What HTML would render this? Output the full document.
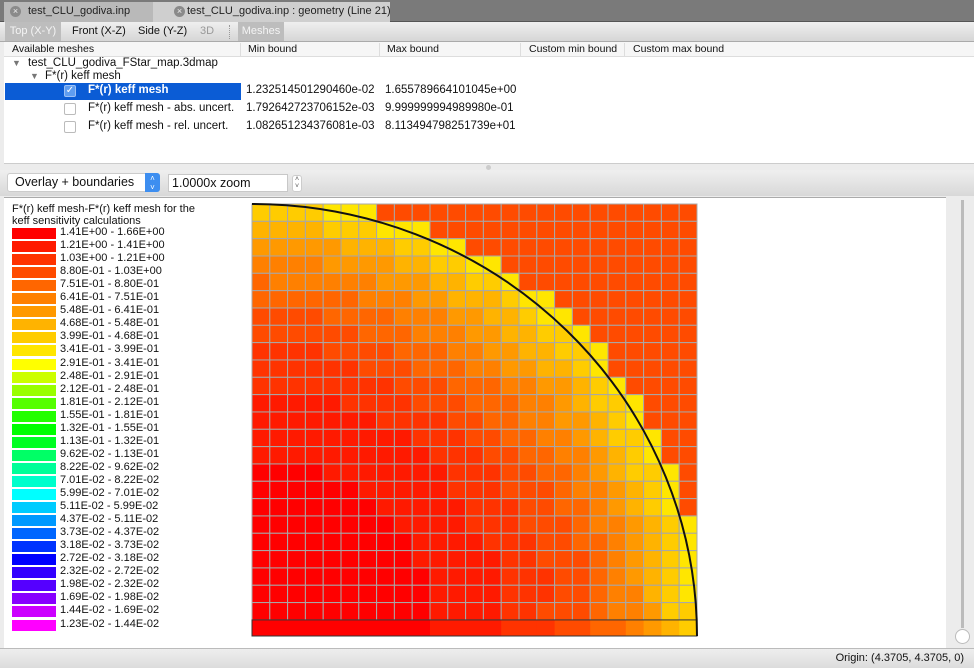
<!DOCTYPE html>
<html><head><meta charset="utf-8">
<style>
*{box-sizing:border-box;margin:0;padding:0}
body{width:974px;height:668px;overflow:hidden;background:#ececec;font-family:"Liberation Sans",sans-serif;font-size:11px;color:#111;position:relative}
.abs{position:absolute}
.tabbar{left:0;top:0;width:974px;height:22px;background:#7a7a7a;border-bottom:1px solid #555}
.tab{top:2px;height:20px;font-size:11px;line-height:19px;color:#222;white-space:nowrap;overflow:hidden}
.tool{left:0;top:22px;width:974px;height:20px;background:linear-gradient(#efefef,#d6d6d6);border-bottom:1px solid #aaa}
.tb{top:0;height:19px;line-height:19px;font-size:11px;color:#111}
.hdr{left:4px;top:42px;width:970px;height:15px;background:#f6f6f6;border-bottom:1px solid #ddd;font-size:10.5px}
.hdr span{position:absolute;top:1px}
.tree{left:4px;top:57px;width:970px;height:107px;background:#fff;border-bottom:1px solid #ccc}
.t{position:absolute;font-size:11.5px;white-space:nowrap}
.cb{position:absolute;width:12px;height:12px;border:1px solid #bbb;border-radius:2px;background:#fff}
.main{left:4px;top:197px;width:942px;height:451px;background:#fff;border-top:1px solid #aaa}
.leg{position:absolute;left:8px;width:44px;height:11px}
.lt{position:absolute;left:56px;font-size:11px;white-space:nowrap}
</style></head><body>
<div class="abs tabbar">
 <div class="abs tab" style="left:4px;width:149px;background:#b9b9b9;padding-left:24px">test_CLU_godiva.inp</div>
 <div class="abs" style="left:10px;top:6px;width:11px;height:11px;border-radius:6px;background:#8a8a8a;color:#eee;font-size:9px;line-height:11px;text-align:center">×</div>
 <div class="abs tab" style="left:153px;width:237px;background:#cfcfcf;padding-left:34px">test_CLU_godiva.inp : geometry (Line 21)</div>
 <div class="abs" style="left:174px;top:6px;width:11px;height:11px;border-radius:6px;background:#8a8a8a;color:#eee;font-size:9px;line-height:11px;text-align:center">×</div>
</div>
<div class="abs tool">
 <div class="abs tb" style="left:5px;width:56px;background:#bdbdbd;color:#f4f4f4;text-align:center">Top (X-Y)</div>
 <div class="abs tb" style="left:72px">Front (X-Z)</div>
 <div class="abs tb" style="left:138px">Side (Y-Z)</div>
 <div class="abs tb" style="left:200px;color:#999">3D</div>
 <div class="abs" style="left:229px;top:3px;height:14px;border-left:1px dotted #999"></div>
 <div class="abs tb" style="left:238px;width:46px;background:#bdbdbd;color:#f4f4f4;text-align:center">Meshes</div>
</div>
<div class="abs hdr">
 <span style="left:8px">Available meshes</span>
 <span style="left:236px;height:13px;border-left:1px solid #ddd"></span><span style="left:244px">Min bound</span>
 <span style="left:375px;height:13px;border-left:1px solid #ddd"></span><span style="left:383px">Max bound</span>
 <span style="left:516px;height:13px;border-left:1px solid #ddd"></span><span style="left:525px">Custom min bound</span>
 <span style="left:620px;height:13px;border-left:1px solid #ddd"></span><span style="left:629px">Custom max bound</span>
</div>
<div class="abs tree">
 <div class="t" style="left:8px;top:1px;color:#777;font-size:9px">▼</div>
 <div class="t" style="left:24px;top:0px">test_CLU_godiva_FStar_map.3dmap</div>
 <div class="t" style="left:26px;top:14px;color:#777;font-size:9px">▼</div>
 <div class="t" style="left:41px;top:13px">F*(r) keff mesh</div>
 <div class="abs" style="left:1px;top:26px;width:236px;height:17px;background:#0b5cd5"></div>
 <div class="cb" style="left:60px;top:28px;background:#5f9df0;border-color:#9cc0f5;color:#fff;font-size:10px;line-height:10px;text-align:center">✓</div>
 <div class="t" style="left:84px;top:27px;color:#fff;font-weight:bold">F*(r) keff mesh</div>
 <div class="t" style="left:242px;top:27px">1.232514501290460e-02</div>
 <div class="t" style="left:381px;top:27px">1.655789664101045e+00</div>
 <div class="cb" style="left:60px;top:46px"></div>
 <div class="t" style="left:84px;top:45px">F*(r) keff mesh - abs. uncert.</div>
 <div class="t" style="left:242px;top:45px">1.792642723706152e-03</div>
 <div class="t" style="left:381px;top:45px">9.999999994989980e-01</div>
 <div class="cb" style="left:60px;top:64px"></div>
 <div class="t" style="left:84px;top:63px">F*(r) keff mesh - rel. uncert.</div>
 <div class="t" style="left:242px;top:63px">1.082651234376081e-03</div>
 <div class="t" style="left:381px;top:63px">8.113494798251739e+01</div>
</div>
<div class="abs" style="left:486px;top:165px;width:5px;height:5px;border-radius:3px;background:#ccc"></div>
<div class="abs" style="left:0;top:170px;width:974px;height:26px;background:linear-gradient(#efefef,#d8d8d8)"></div>
<div class="abs" style="left:7px;top:173px;width:153px;height:19px;background:#fff;border:1px solid #ccc;border-radius:3px;font-size:12.5px;line-height:17px;padding-left:7px">Overlay + boundaries</div>
<div class="abs" style="left:145px;top:173px;width:15px;height:19px;background:#3d8ef0;border-radius:0 3px 3px 0;color:#fff;font-size:8px;line-height:9px;text-align:center;padding-top:1px">˄<br>˅</div>
<div class="abs" style="left:168px;top:174px;width:120px;height:18px;background:#fff;border:1px solid #c8c8c8;font-size:12.5px;line-height:16px;padding-left:3px">1.0000x zoom</div>
<div class="abs" style="left:292px;top:175px;width:10px;height:17px;background:#fff;border:1px solid #ccc;border-radius:3px;font-size:7px;line-height:7px;text-align:center;color:#555">˄<br>˅</div>
<div class="abs main">
 <div class="t" style="left:8px;top:6px;font-size:11px;line-height:11.5px">F*(r) keff mesh-F*(r) keff mesh for the<br>keff sensitivity calculations</div>
 <div id="legend"></div>
</div>
<div class="abs" style="left:961px;top:200px;width:3px;height:428px;background:#bbb"></div>
<div class="abs" style="left:955px;top:629px;width:15px;height:15px;border-radius:8px;background:#fff;border:1px solid #bbb"></div>
<div class="abs" style="left:0;top:648px;width:974px;height:20px;background:linear-gradient(#eee,#dcdcdc);border-top:1px solid #bbb">
 <div class="t" style="right:10px;top:3px;font-size:11px">Origin: (4.3705, 4.3705, 0)</div>
</div>
<svg class="abs" style="left:0;top:0" width="974" height="668" id="chart"></svg>
<script>
const legendLabels=["1.41E+00 - 1.66E+00","1.21E+00 - 1.41E+00","1.03E+00 - 1.21E+00","8.80E-01 - 1.03E+00","7.51E-01 - 8.80E-01","6.41E-01 - 7.51E-01","5.48E-01 - 6.41E-01","4.68E-01 - 5.48E-01","3.99E-01 - 4.68E-01","3.41E-01 - 3.99E-01","2.91E-01 - 3.41E-01","2.48E-01 - 2.91E-01","2.12E-01 - 2.48E-01","1.81E-01 - 2.12E-01","1.55E-01 - 1.81E-01","1.32E-01 - 1.55E-01","1.13E-01 - 1.32E-01","9.62E-02 - 1.13E-01","8.22E-02 - 9.62E-02","7.01E-02 - 8.22E-02","5.99E-02 - 7.01E-02","5.11E-02 - 5.99E-02","4.37E-02 - 5.11E-02","3.73E-02 - 4.37E-02","3.18E-02 - 3.73E-02","2.72E-02 - 3.18E-02","2.32E-02 - 2.72E-02","1.98E-02 - 2.32E-02","1.69E-02 - 1.98E-02","1.44E-02 - 1.69E-02","1.23E-02 - 1.44E-02"];
const legendColors=["#ff0000","#ff1a00","#ff3300","#ff4b00","#ff6600","#ff8000","#ff9900","#ffb300","#ffcc00","#ffe600","#ffff00","#ccff00","#99ff00","#55ff00","#22ff00","#00ff00","#00ff22","#00ff66","#00ff99","#00ffcc","#00ffff","#00ccff","#0099ff","#0066ff","#0033ff","#0000ff","#3300ff","#5500ff","#8800ff","#cc00ff","#ff00ff"];
// cell level indices (row 0 = top); missing trailing cells = outside value level 3
const rows=[
[8,8,8,8,9,9,9],
[7,7,7,7,8,8,8,9,9,9],
[6,6,6,6,6,7,7,7,8,8,9,9],
[5,5,5,5,6,6,6,6,7,7,8,8,9,9],
[4,5,5,5,5,5,5,6,6,6,7,7,8,8,9],
[4,4,4,4,4,4,5,5,5,6,6,7,7,7,8,9,9],
[3,3,3,3,4,4,4,4,5,5,5,6,6,7,7,8,9,9],
[3,3,3,3,3,3,4,4,4,5,5,5,6,6,7,7,8,8,9],
[2,2,2,2,3,3,3,3,4,4,4,5,5,6,6,7,7,8,8,9],
[2,2,2,2,2,2,3,3,3,4,4,4,5,5,6,6,7,7,8,9],
[2,2,2,2,2,2,2,2,3,3,3,4,4,4,5,5,6,6,7,8,9],
[1,1,1,1,1,2,2,2,2,3,3,3,4,4,4,5,5,6,7,8,8,9],
[1,1,1,1,1,1,1,2,2,2,2,3,3,4,4,5,5,6,6,7,8,9],
[1,1,1,1,1,1,1,1,1,2,2,2,3,3,4,4,5,5,6,7,8,8,9],
[1,1,1,1,1,1,1,1,1,1,2,2,2,3,3,4,4,5,5,6,7,8,9],
[0,0,0,0,1,1,1,1,1,1,1,2,2,2,3,3,4,4,5,6,7,8,8,9],
[0,0,0,0,0,0,1,1,1,1,1,2,2,2,3,3,3,4,5,5,6,7,8,9],
[0,0,0,0,0,0,0,1,1,1,1,1,2,2,2,3,3,4,4,5,6,7,8,9],
[0,0,0,0,0,0,0,0,1,1,1,1,2,2,2,3,3,3,4,5,5,6,7,8,9],
[0,0,0,0,0,0,0,0,0,1,1,1,1,2,2,2,3,3,4,4,5,6,7,8,9],
[0,0,0,0,0,0,0,0,0,1,1,1,1,1,2,2,3,3,3,4,5,6,7,8,9],
[0,0,0,0,0,0,0,0,0,0,1,1,1,1,2,2,2,3,3,4,5,6,7,8,9],
[0,0,0,0,0,0,0,0,0,0,1,1,1,1,2,2,2,3,3,4,5,5,7,8,9],
[0,0,0,0,0,0,0,0,0,0,1,1,1,1,2,2,3,3,3,4,5,5,6,8,8],
[0,0,0,0,0,0,0,0,0,0,1,1,1,1,2,2,2,3,3,4,4,5,6,7,8]
];
const outsideLevel=3;
const NS="http://www.w3.org/2000/svg";
const svg=document.getElementById('chart');
const gx0=252,gy0=204,nCols=25,nRows=25,cw=17.8,ch=17.33;
function xPos(c){return gx0+c*cw;}
function yPos(r){return gy0+r*ch;}
const leg=document.getElementById('legend');
legendLabels.forEach((lab,i)=>{
 const sw=document.createElement('div');sw.className='leg';
 sw.style.top=(30+i*13.05)+'px';sw.style.background=legendColors[i];
 
 
 leg.appendChild(sw);
 const t=document.createElement('div');t.className='lt';t.textContent=lab;
 t.style.top=(28+i*13.05)+'px';
 
 
 leg.appendChild(t);
});
for(let r=0;r<nRows;r++){
 for(let c=0;c<nCols;c++){
  const lv=c<rows[r].length?rows[r][c]:outsideLevel;
  const rect=document.createElementNS(NS,'rect');
  const last=r===nRows-1;
  rect.setAttribute('x',xPos(c));rect.setAttribute('y',yPos(r));
  rect.setAttribute('width',cw+(last?0.5:0));rect.setAttribute('height',last?(636-yPos(r)):ch);
  rect.setAttribute('fill',legendColors[lv]);
  if(!last){rect.setAttribute('stroke','#a8a8a8');rect.setAttribute('stroke-width','1');}
  
  
  svg.appendChild(rect);
 }
}
const frame=document.createElementNS(NS,'rect');
frame.setAttribute('x',gx0);frame.setAttribute('y',yPos(nRows-1));
frame.setAttribute('width',nCols*cw);frame.setAttribute('height',636-yPos(nRows-1));
frame.setAttribute('fill','none');frame.setAttribute('stroke','#333');


svg.appendChild(frame);
const arc=document.createElementNS(NS,'path');
const rx=nCols*cw,ry=636-gy0;
arc.setAttribute('d',`M ${gx0} ${gy0} A ${rx} ${ry} 0 0 1 ${gx0+rx} 636`);
arc.setAttribute('fill','none');arc.setAttribute('stroke','#111');arc.setAttribute('stroke-width','2');


svg.appendChild(arc);
</script>
</body></html>
